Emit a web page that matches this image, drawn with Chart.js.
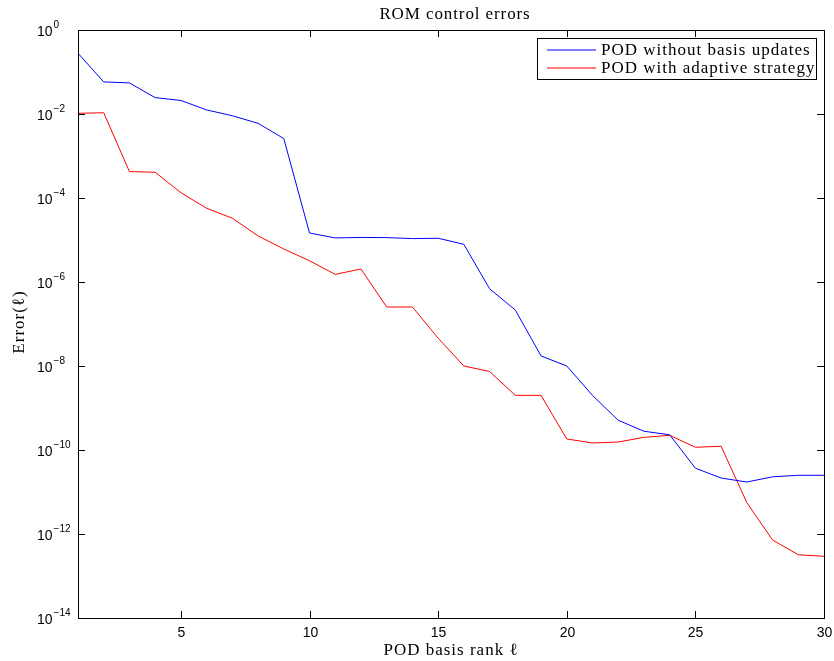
<!DOCTYPE html>
<html>
<head>
<meta charset="utf-8">
<script src="https://cdn.jsdelivr.net/npm/chart.js@4"></script>
<style>
  body { margin: 0; background: #fff; }
  #wrap { width: 834px; height: 661px; position: relative; }
</style>
</head>
<body>
<div id="wrap"><canvas id="romChart"></canvas></div>
<script>
const rank = [1, 2, 3, 4, 5, 6, 7, 8, 9, 10, 11, 12, 13, 14, 15,
  16, 17, 18, 19, 20, 21, 22, 23, 24, 25, 26, 27, 28, 29, 30];

const podNoUpdate = [0.28, 0.058, 0.055, 0.0245, 0.021, 0.0125, 0.0091, 0.006, 0.0026, 1.47e-5,
  1.12e-5, 1.15e-5, 1.14e-5, 1.08e-5, 1.1e-5, 7.9e-6, 6.9e-7, 2.15e-7, 1.74e-8, 1.0e-8,
  2.0e-9, 5.1e-10, 2.8e-10, 2.3e-10, 3.7e-11, 2.15e-11, 1.73e-11, 2.3e-11, 2.5e-11, 2.5e-11];

const podAdaptive = [0.0104, 0.0107, 4.25e-4, 4.1e-4, 1.34e-4, 5.7e-5, 3.3e-5, 1.25e-5, 6.1e-6, 3.2e-6,
  1.52e-6, 2.04e-6, 2.54e-7, 2.54e-7, 4.6e-8, 1.0e-8, 7.4e-9, 2.0e-9, 2.0e-9, 1.83e-10,
  1.47e-10, 1.55e-10, 2.0e-10, 2.24e-10, 1.16e-10, 1.23e-10, 5.6e-12, 7.2e-13, 3.2e-13, 2.95e-13];

const xTicks = [5, 10, 15, 20, 25, 30];
const yExponents = [-14, -12, -10, -8, -6, -4, -2, 0];

const seriesLabels = ["POD without basis updates", "POD with adaptive strategy"];
const seriesColors = ["#0000ff", "#ff0000"];
const titleText = "ROM control errors";
const xTitle = "POD basis rank \u2113";
const yTitle = "Error(\u2113)";

const toPoints = (ys) => rank.map((r, i) => ({ x: r, y: ys[i] }));

const serif = "17px 'Liberation Serif', 'Times New Roman', serif";
const sans = "'Liberation Sans', Arial, sans-serif";

// draws the matlab style box, inward ticks, labels and legend
const matlabFrame = {
  id: "matlabFrame",
  afterDraw(chart) {
    const ctx = chart.ctx;
    const a = chart.chartArea;
    const xs = chart.scales.x;
    const ys = chart.scales.y;
    const tickLen = 7;
    ctx.save();
    ctx.strokeStyle = "#000";
    ctx.lineWidth = 1;
    ctx.strokeRect(Math.round(a.left) + 0.5, Math.round(a.top) + 0.5,
      Math.round(a.right - a.left), Math.round(a.bottom - a.top));

    ctx.fillStyle = "#000";
    ctx.font = "14px " + sans;
    ctx.textAlign = "center";
    ctx.textBaseline = "middle";
    xs.ticks.forEach((t) => {
      const px = Math.round(xs.getPixelForValue(t.value)) + 0.5;
      ctx.beginPath();
      ctx.moveTo(px, a.bottom);
      ctx.lineTo(px, a.bottom - tickLen);
      ctx.moveTo(px, a.top);
      ctx.lineTo(px, a.top + tickLen);
      ctx.stroke();
      ctx.fillText(String(t.value), px, a.bottom + 15);
    });

    ys.ticks.forEach((t) => {
      const py = Math.round(ys.getPixelForValue(t.value)) + 0.5;
      ctx.beginPath();
      ctx.moveTo(a.left, py);
      ctx.lineTo(a.left + tickLen, py);
      ctx.moveTo(a.right, py);
      ctx.lineTo(a.right - tickLen, py);
      ctx.stroke();
      const exp = Math.round(Math.log10(t.value));
      ctx.textAlign = "left";
      ctx.font = "14px " + sans;
      ctx.fillText("10", 37, py + 2);
      const w = ctx.measureText("10").width;
      ctx.font = "10px " + sans;
      ctx.fillText(exp === 0 ? "0" : "\u2212" + Math.abs(exp), 37 + w + 1, py - 5);
    });

    ctx.font = serif;
    ctx.textAlign = "center";
    ctx.letterSpacing = "0.9px";
    ctx.fillText(titleText, 455, 15);
    ctx.letterSpacing = "1px";
    ctx.fillText(xTitle, 451, 651);
    ctx.save();
    ctx.translate(20, 322);
    ctx.rotate(-Math.PI / 2);
    ctx.fillText(yTitle, 0, 0);
    ctx.restore();

    // legend box in the upper right corner
    const lx = 537.5, ly = 38.5, lw = 279, lh = 41;
    ctx.fillStyle = "#fff";
    ctx.fillRect(lx, ly, lw, lh);
    ctx.strokeRect(lx, ly, lw, lh);
    ctx.textAlign = "left";
    ctx.letterSpacing = "1px";
    chart.data.datasets.forEach((ds, i) => {
      const rowY = 50 + i * 18;
      ctx.strokeStyle = seriesColors[i];
      ctx.lineWidth = 1.2;
      ctx.beginPath();
      ctx.moveTo(547, rowY);
      ctx.lineTo(596, rowY);
      ctx.stroke();
      ctx.fillStyle = "#000";
      ctx.fillText(ds.label, 601, rowY + 0.5);
    });
    ctx.restore();
  },
};

new Chart(document.getElementById("romChart"), {
  type: "line",
  data: {
    datasets: [
      {
        label: seriesLabels[0],
        data: toPoints(podNoUpdate),
        borderColor: seriesColors[0],
        borderWidth: 1,
        pointRadius: 0,
        tension: 0,
      },
      {
        label: seriesLabels[1],
        data: toPoints(podAdaptive),
        borderColor: seriesColors[1],
        borderWidth: 1,
        pointRadius: 0,
        tension: 0,
      },
    ],
  },
  options: {
    responsive: true,
    maintainAspectRatio: false,
    animation: false,
    layout: {
      padding: { left: 78, right: 10, top: 30, bottom: 43 },
    },
    plugins: {
      legend: { display: false },
      tooltip: { enabled: false },
    },
    scales: {
      x: {
        type: "linear",
        min: 1,
        max: 30,
        display: false,
        afterBuildTicks: (scale) => {
          scale.ticks = xTicks.map((v) => ({ value: v }));
        },
      },
      y: {
        type: "logarithmic",
        min: 1e-14,
        max: 1,
        display: false,
        afterBuildTicks: (scale) => {
          scale.ticks = yExponents.map((e) => ({ value: Math.pow(10, e) }));
        },
      },
    },
  },
  plugins: [matlabFrame],
});
</script>
</body>
</html>
